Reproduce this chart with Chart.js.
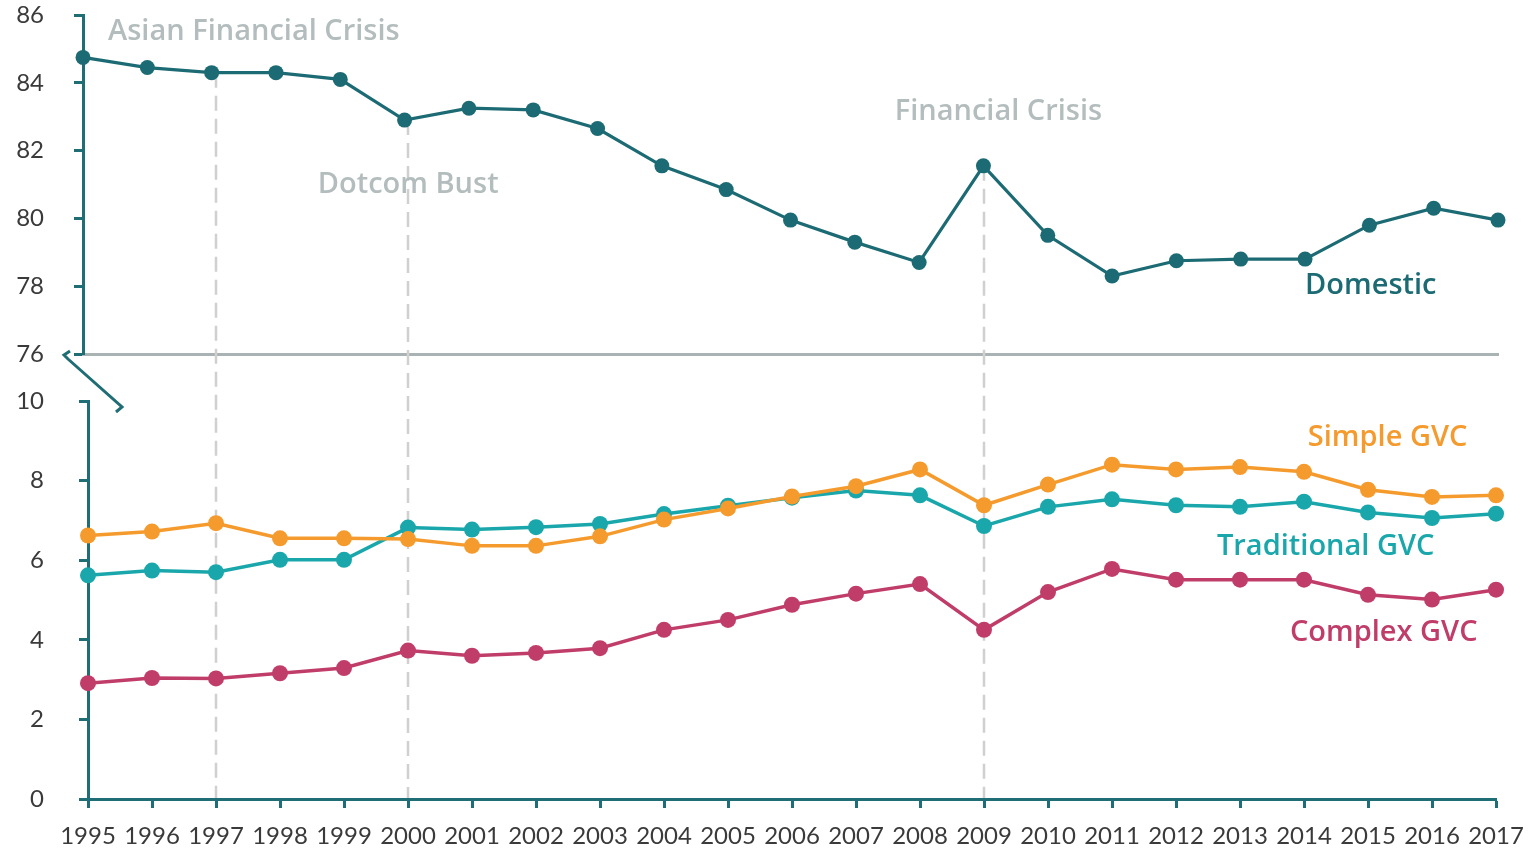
<!DOCTYPE html>
<html lang="en">
<head>
<meta charset="UTF-8">
<title>Domestic and GVC production shares, 1995-2017</title>
<script src="https://cdn.jsdelivr.net/npm/chart.js@4"></script>
<style>
  body { margin: 0; background: #fff; }
  #wrap { position: relative; width: 1531px; height: 848px; }
  #wrap canvas { position: absolute; top: 0; left: 0; }
</style>
</head>
<body>
<div id="wrap">
  <canvas id="topChart" width="1531" height="848"></canvas>
  <canvas id="bottomChart" width="1531" height="848"></canvas>
</div>
<script>
// --- data ---
const years = ['1995','1996','1997','1998','1999','2000','2001','2002','2003','2004','2005',
               '2006','2007','2008','2009','2010','2011','2012','2013','2014','2015','2016','2017'];
const domestic = [84.75, 84.45, 84.3, 84.3, 84.1, 82.9, 83.25, 83.2, 82.65, 81.55, 80.85,
                  79.95, 79.3, 78.7, 81.55, 79.5, 78.3, 78.75, 78.8, 78.8, 79.8, 80.3, 79.95];
const simpleGvc = [6.62, 6.72, 6.93, 6.55, 6.55, 6.53, 6.36, 6.36, 6.6, 7.02, 7.3,
                   7.6, 7.86, 8.28, 7.38, 7.9, 8.4, 8.28, 8.34, 8.22, 7.77, 7.59, 7.63];
const traditionalGvc = [5.62, 5.74, 5.7, 6.01, 6.01, 6.82, 6.77, 6.83, 6.91, 7.16, 7.37,
                        7.57, 7.75, 7.63, 6.86, 7.34, 7.53, 7.38, 7.34, 7.47, 7.2, 7.06, 7.17];
const complexGvc = [2.91, 3.04, 3.03, 3.16, 3.29, 3.73, 3.6, 3.67, 3.79, 4.25, 4.5,
                    4.88, 5.16, 5.4, 4.25, 5.2, 5.78, 5.51, 5.51, 5.51, 5.13, 5.01, 5.26];
const topTicks = [76, 86];      // domestic panel range
const bottomTicks = [0, 10];    // GVC panel range
const crisisYears = ['1997', '2000', '2009'];

// --- styling ---
const AXIS = '#1f6d75';
const NOTE_GRAY = '#b4bdbd';
const TICK_TEXT = '#3a3a3a';
const COLORS = { domestic: '#1c6b74', simple: '#f59b2d', traditional: '#1aa7ab', complex: '#c13d69' };
const tickFont = { family: 'Lato', size: 24 };
const NOTE_FONT = '600 29px "Open Sans"';

const topNotes = [
  { text: 'Asian Financial Crisis', x: 0.39, y: 85.5, color: NOTE_GRAY },
  { text: 'Dotcom Bust', x: 3.65, y: 81.0, color: NOTE_GRAY },
  { text: 'Financial Crisis', x: 12.62, y: 83.15, color: NOTE_GRAY },
  { text: 'Domestic', x: 19.0, y: 78.0, color: COLORS.domestic }
];
const bottomNotes = [
  { text: 'Simple GVC', x: 19.06, y: 9.07, color: COLORS.simple },
  { text: 'Traditional GVC', x: 17.64, y: 6.33, color: COLORS.traditional },
  { text: 'Complex GVC', x: 18.78, y: 4.17, color: COLORS.complex }
];

function series(data, color, width, radius) {
  return {
    data, borderColor: color, backgroundColor: color, borderWidth: width,
    pointRadius: radius, pointHoverRadius: radius, pointBorderWidth: 0,
    pointBackgroundColor: color, tension: 0, clip: false
  };
}

// text labels placed in data space
function notesPlugin(notes) {
  return {
    id: 'notes',
    afterDatasetsDraw(chart) {
      const { ctx, scales: { x, y } } = chart;
      ctx.save();
      ctx.font = NOTE_FONT;
      ctx.textBaseline = 'middle';
      ctx.textAlign = 'left';
      notes.forEach(n => {
        ctx.fillStyle = n.color;
        ctx.fillText(n.text, x.getPixelForValue(n.x), y.getPixelForValue(n.y));
      });
      ctx.restore();
    }
  };
}

// axis break mark between the two panels
const breakMark = {
  id: 'breakMark',
  afterDraw(chart) {
    const { ctx, chartArea: { left, top } } = chart;
    ctx.save();
    ctx.strokeStyle = AXIS;
    ctx.lineWidth = 3;
    ctx.beginPath();
    ctx.moveTo(left - 18, top - 50);
    ctx.lineTo(left - 24, top - 46);
    ctx.lineTo(left - 20, top - 42);
    ctx.lineTo(left + 34, top + 6);
    ctx.lineTo(left + 28, top + 11);
    ctx.stroke();
    ctx.restore();
  }
};

function axisScale(range, width, labelPad) {
  return {
    min: range[0], max: range[1],
    ticks: { stepSize: 2, padding: labelPad, color: TICK_TEXT, font: tickFont },
    grid: { drawOnChartArea: false, tickLength: 9, tickWidth: 3, tickColor: AXIS },
    border: { color: AXIS, width: 3 },
    afterFit: s => {
      s.width = width;
      // label padding is horizontal only; keep it out of the vertical layout
      s.paddingTop = 12;
      s.paddingBottom = 12;
    }
  };
}

// lower panel: GVC series
const bottomChart = new Chart(document.getElementById('bottomChart'), {
  type: 'line',
  data: {
    labels: years,
    datasets: [
      series(simpleGvc, COLORS.simple, 3.5, 8),
      series(traditionalGvc, COLORS.traditional, 3.5, 8),
      series(complexGvc, COLORS.complex, 3.5, 8)
    ]
  },
  options: {
    responsive: false,
    animation: false,
    devicePixelRatio: 1,
    layout: { padding: { top: 401, right: 35, left: 0, bottom: 0 } },
    plugins: { legend: { display: false }, tooltip: { enabled: false } },
    scales: {
      x: {
        ticks: { color: TICK_TEXT, font: tickFont, padding: 14, autoSkip: false, maxRotation: 0, minRotation: 0 },
        grid: { drawOnChartArea: false, tickLength: 9, tickWidth: 3, tickColor: AXIS },
        border: { color: AXIS, width: 3 },
        afterFit: s => {
          s.height = 49;
          s.paddingLeft = 0;
          s.paddingRight = 0;
        }
      },
      y: axisScale(bottomTicks, 88, 35)
    }
  },
  plugins: [notesPlugin(bottomNotes), breakMark]
});

// dashed markers for crisis years, running down through both panels
const crisisLines = {
  id: 'crisisLines',
  beforeDatasetsDraw(chart) {
    const { ctx, scales: { y } } = chart;
    const bx = bottomChart.scales.x;
    const bottom = bottomChart.chartArea.bottom;
    ctx.save();
    ctx.strokeStyle = '#d0d0d0';
    ctx.lineWidth = 2.5;
    ctx.setLineDash([15, 8]);
    crisisYears.forEach(yr => {
      const i = years.indexOf(yr);
      const px = bx.getPixelForValue(i);
      ctx.beginPath();
      ctx.moveTo(px, y.getPixelForValue(domestic[i]));
      ctx.lineTo(px, bottom);
      ctx.stroke();
    });
    ctx.restore();
  }
};

// upper panel: domestic share
new Chart(document.getElementById('topChart'), {
  type: 'line',
  data: {
    labels: years,
    datasets: [series(domestic, COLORS.domestic, 3.2, 7.5)]
  },
  options: {
    responsive: false,
    animation: false,
    devicePixelRatio: 1,
    layout: { padding: { top: 15, right: 33, left: 0, bottom: 0 } },
    plugins: { legend: { display: false }, tooltip: { enabled: false } },
    scales: {
      x: {
        ticks: { display: false },
        grid: { display: false },
        border: { color: '#aab3b3', width: 3 },
        afterFit: s => { s.height = 848 - 354; }
      },
      y: axisScale(topTicks, 83, 30)
    }
  },
  plugins: [crisisLines, notesPlugin(topNotes)]
});
</script>
</body>
</html>
